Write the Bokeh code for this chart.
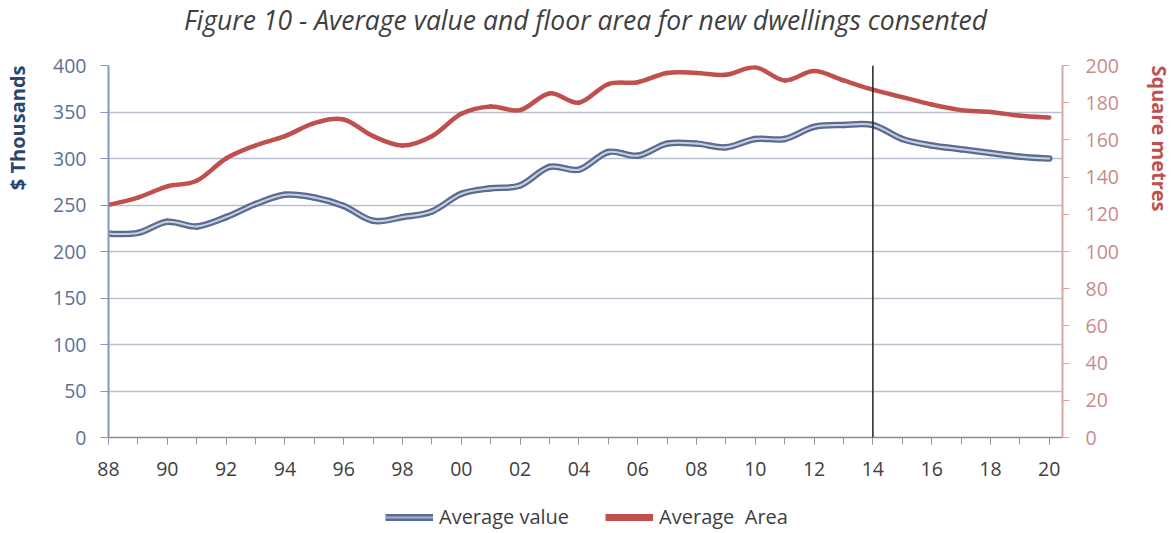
from bokeh.plotting import figure
from bokeh.layouts import column
from bokeh.models import (Range1d, LinearAxis, FixedTicker, Span, Legend, LegendItem,
                          Title, CustomJSTickFormatter)
from bokeh.embed import file_html
from bokeh.resources import INLINE

# ---- data ----
years = list(range(1988, 2021))
avg_value = [219, 220, 232, 227, 237, 251, 261, 258, 249, 233, 237, 243, 262, 268, 271,
             291, 288, 307, 303, 316, 316, 312, 321, 321, 334, 336, 336, 321, 314, 310,
             306, 302, 300]  # $ thousands
avg_area = [125, 129, 135, 138, 150, 157, 162, 169, 171, 162, 157, 162, 174, 178, 176,
            185, 180, 190, 191, 196, 196, 195, 199, 192, 197, 192, 187, 183, 179, 176,
            175, 173, 172]  # square metres
left_ticks = [0, 50, 100, 150, 200, 250, 300, 350, 400]
right_ticks = [0, 20, 40, 60, 80, 100, 120, 140, 160, 180, 200]
x_label_years = list(range(1988, 2021, 2))
marker_year = 2014
series_names = ["Average value", "Average  Area"]

title_text = "Figure 10 - Average value and floor area for new dwellings consented"
FONT = "Open Sans"
BLUE_DARK, BLUE_LIGHT, RED = "#5b6c90", "#c6d0e3", "#c0504d"


def smooth_segments(xs, ys):
    """Catmull-Rom -> cubic Bezier segments through the data points (Excel-style smoothing)."""
    n = len(xs)
    out = {k: [] for k in ("x0", "y0", "x1", "y1", "cx0", "cy0", "cx1", "cy1")}
    for i in range(n - 1):
        ip, inn = max(i - 1, 0), min(i + 2, n - 1)
        out["x0"].append(xs[i]); out["y0"].append(ys[i])
        out["x1"].append(xs[i + 1]); out["y1"].append(ys[i + 1])
        out["cx0"].append(xs[i] + (xs[i + 1] - xs[ip]) / 6)
        out["cy0"].append(ys[i] + (ys[i + 1] - ys[ip]) / 6)
        out["cx1"].append(xs[i + 1] - (xs[inn] - xs[i]) / 6)
        out["cy1"].append(ys[i + 1] - (ys[inn] - ys[i]) / 6)
    return out


W, H_TITLE, H_MAIN, H_LEG = 1174, 40, 451, 42
FRAME_LEFT = 108

# ---- title strip ----
tf = figure(width=W, height=H_TITLE, output_backend="svg", toolbar_location=None,
            x_range=Range1d(0, 1), y_range=Range1d(0, 1), title=title_text,
            x_axis_location=None, y_axis_location=None, min_border=0)
tf.outline_line_color = None
tf.xgrid.grid_line_color = None
tf.ygrid.grid_line_color = None
tf.title.align = "center"
tf.title.vertical_align = "top"
tf.title.text_font = FONT
tf.title.text_font_style = "italic"
tf.title.text_font_size = "26.5px"
tf.title.text_color = "#3f3f3f"
tf.title.standoff = 2

# ---- main chart ----
p = figure(width=W, height=H_MAIN, output_backend="svg", toolbar_location=None,
           title_location=None,
           x_range=Range1d(1988, 2020.45), y_range=Range1d(0, 400),
           min_border_left=FRAME_LEFT, min_border_right=111, min_border_top=25,
           min_border_bottom=54)
p.outline_line_color = None
p.background_fill_color = "white"
p.border_fill_color = "white"

# grid
p.xgrid.grid_line_color = None
p.ygrid.grid_line_color = "#b9c1d0"
p.ygrid.grid_line_width = 1.6
p.ygrid.ticker = FixedTicker(ticks=left_ticks)

# x axis
xa = p.xaxis[0]
xa.ticker = FixedTicker(ticks=x_label_years, minor_ticks=years)
xa.formatter = CustomJSTickFormatter(code="return String(tick % 100).padStart(2, '0');")
xa.axis_line_color = "#8c8c8c"
xa.axis_line_width = 1.5
xa.major_tick_line_color = "#8c8c8c"
xa.minor_tick_line_color = "#9a9a9a"
xa.major_tick_in = 0
xa.major_tick_out = 7
xa.minor_tick_in = 0
xa.minor_tick_out = 7
xa.major_label_text_font = FONT
xa.major_label_text_font_size = "19.5px"
xa.major_label_text_color = "#404040"
xa.major_label_standoff = 17

# left axis
ya = p.yaxis[0]
ya.ticker = FixedTicker(ticks=left_ticks)
ya.axis_line_color = "#8797bb"
ya.axis_line_width = 2
ya.major_tick_line_color = "#8797bb"
ya.major_tick_in = 0
ya.major_tick_out = 8
ya.minor_tick_line_color = None
ya.major_label_text_font = FONT
ya.major_label_text_font_size = "19.5px"
ya.major_label_text_color = "#5d7196"
ya.major_label_standoff = 14

# right axis
p.extra_y_ranges = {"area": Range1d(0, 200)}
ra = LinearAxis(y_range_name="area", ticker=FixedTicker(ticks=right_ticks))
ra.axis_line_color = "#dba6a5"
ra.axis_line_width = 2
ra.major_tick_line_color = "#dba6a5"
ra.major_tick_in = 0
ra.major_tick_out = 7
ra.minor_tick_line_color = None
ra.major_label_text_font = FONT
ra.major_label_text_font_size = "19.5px"
ra.major_label_text_color = "#c98b89"
ra.major_label_standoff = 16
p.add_layout(ra, "right")

# axis titles: a thin spacer between axis and title pushes the title to the outer edge
p.add_layout(Title(text=" ", text_font_size="1px", standoff=12), "left")
p.add_layout(Title(text="$ Thousands", align="right", vertical_align="top", text_font=FONT,
                   text_font_style="bold", text_font_size="20px", text_color="#2a4474",
                   standoff=6), "left")
p.add_layout(Title(text=" ", text_font_size="1px", standoff=17), "right")
p.add_layout(Title(text="Square metres", align="left", vertical_align="top", text_font=FONT,
                   text_font_style="bold", text_font_size="20px", text_color=RED,
                   standoff=4), "right")

# smoothed lines
sv = smooth_segments(years, avg_value)
sa = smooth_segments(years, avg_area)
bz = dict(x0="x0", y0="y0", x1="x1", y1="y1", cx0="cx0", cy0="cy0", cx1="cx1", cy1="cy1")
p.bezier(source=sv, **bz, line_color=BLUE_DARK, line_width=6.5, line_cap="round")
p.bezier(source=sv, **bz, line_color=BLUE_LIGHT, line_width=2, line_cap="round")
p.bezier(source=sa, **bz, y_range_name="area", line_color=RED, line_width=4.5, line_cap="round")

# vertical marker
p.add_layout(Span(location=marker_year, dimension="height", line_color="#222222", line_width=1.5))

# ---- legend strip below the chart ----
lf = figure(width=W, height=H_LEG, output_backend="svg", toolbar_location=None,
            x_range=Range1d(0, 1), y_range=Range1d(0, 1),
            x_axis_location=None, y_axis_location=None, min_border=0)
lf.outline_line_color = None
lf.xgrid.grid_line_color = None
lf.ygrid.grid_line_color = None
# legend renderers carry the series (outside this strip's visible range)
lv1 = lf.line(years, avg_value, line_color=BLUE_DARK, line_width=7)
lv2 = lf.line(years, avg_value, line_color="#a3b1cc", line_width=2)
la = lf.line(years, avg_area, line_color=RED, line_width=7)
legend = Legend(items=[LegendItem(label=series_names[0], renderers=[lv1, lv2]),
                       LegendItem(label=series_names[1], renderers=[la])],
                orientation="horizontal", location=(385 - FRAME_LEFT, 3),
                label_text_font=FONT, label_text_font_size="20px", label_text_color="#404040",
                glyph_width=48, glyph_height=16, spacing=36, padding=0, margin=0,
                border_line_color=None, background_fill_alpha=0, label_standoff=6)
lf.add_layout(legend, "center")

open("out.html", "w").write(file_html(column(tf, p, lf, spacing=0), INLINE))
